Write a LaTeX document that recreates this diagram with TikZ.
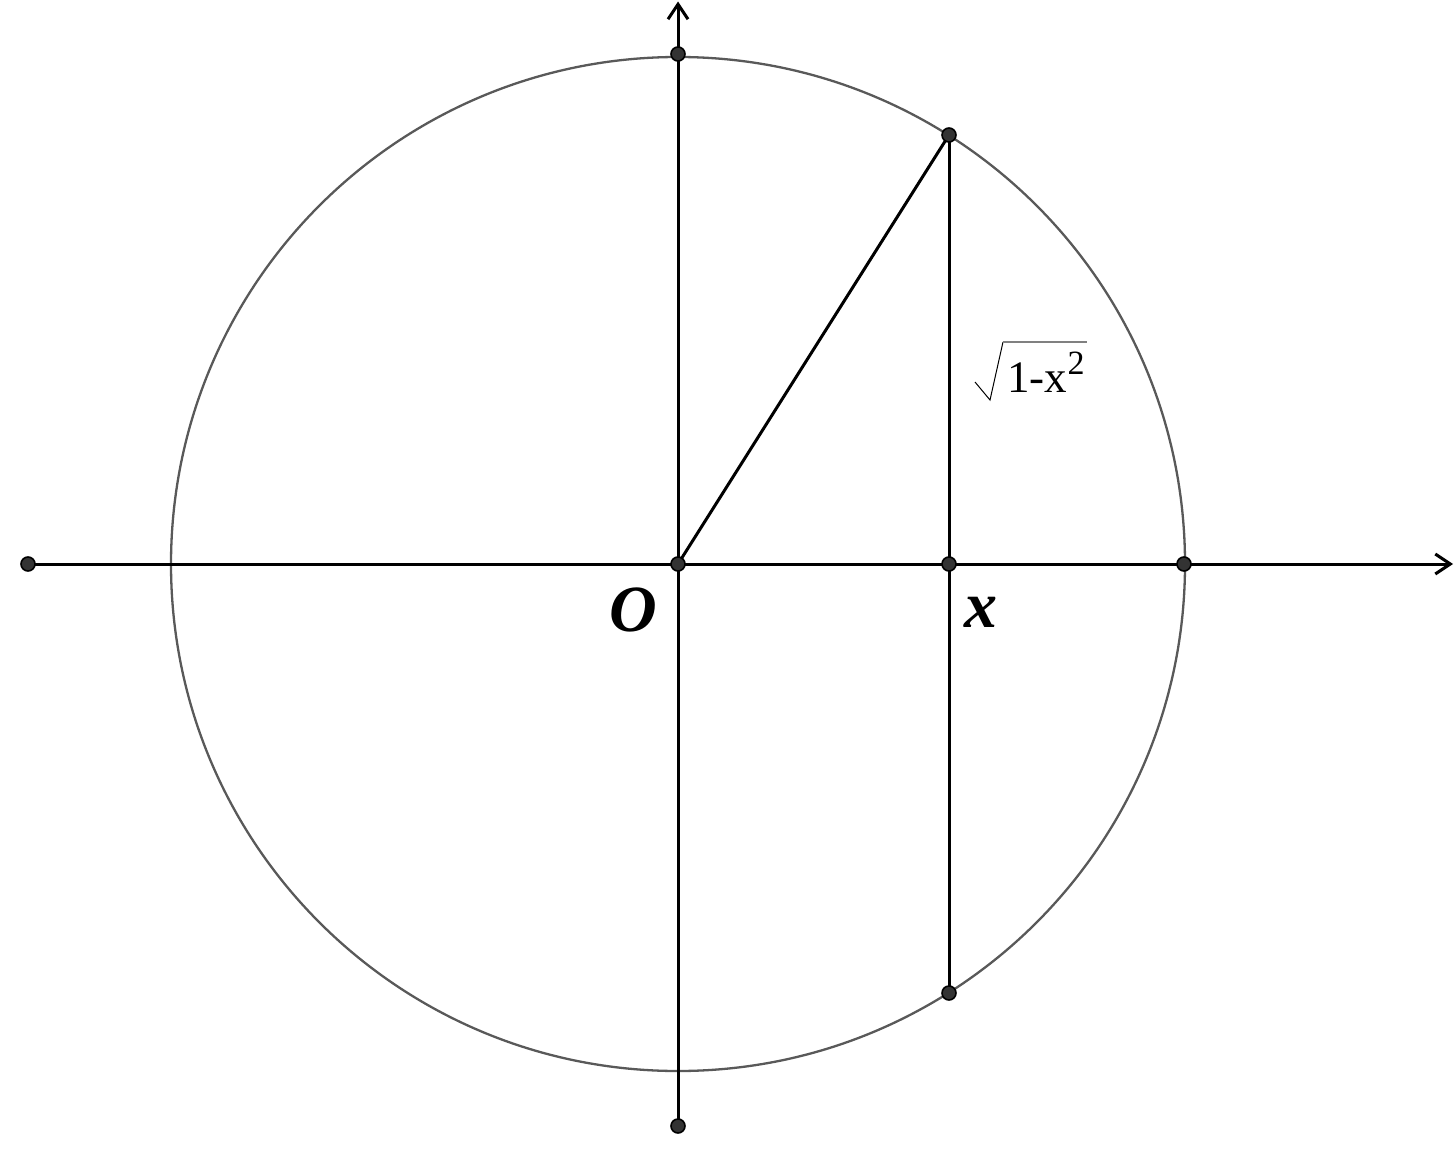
\documentclass[tikz,border=0pt]{standalone}
\usepackage{fontspec}
\setmainfont{Liberation Serif}
\usetikzlibrary{arrows.meta}
\begin{document}
\begin{tikzpicture}[x=1pt,y=-1pt,
  axis/.style={line width=3pt,black,line cap=butt},
  seg/.style={line width=3pt,black},
  circ/.style={line width=2.3pt,draw=black!65},
  pt/.style={circle,fill=black!80,draw=black,line width=1.6pt,inner sep=0pt,minimum size=14pt},
  lbl/.style={font=\fontsize{66}{66}\selectfont\bfseries\itshape,inner sep=0pt},
  tip/.style={-{Straight Barb[length=15pt,width=20pt,line width=3pt]}}
]
\useasboundingbox (0,0) rectangle (1455,1155);
\coordinate (O) at (678,564);
\coordinate (X) at (949,564);
\coordinate (P) at (949,135);
\coordinate (Q) at (949,993);
\coordinate (A) at (1184,564);
\coordinate (T) at (678,54);
\coordinate (L) at (28,564);
\coordinate (B) at (678,1126);
\coordinate (XE) at (1453,564);
\coordinate (YE) at (678,1.5);
% circle
\draw[circ] (O) circle (507);
% axes
\draw[axis,tip] (L) -- (XE);
\draw[axis,tip] (B) -- (YE);
% segments
\draw[seg] (O) -- (P);
\draw[seg] (P) -- (Q);
% label sqrt
\coordinate (r1) at (975,382);
\coordinate (r2) at (990,400);
\coordinate (r3) at (1003,342);
\coordinate (r4) at (1087,342);
\draw[line width=1pt,black] (r1) -- (r2) -- (r3);
\draw[line width=2pt,black!50] (r3) -- (r4);
\node[anchor=base west,inner sep=0pt,font=\fontsize{45}{45}\selectfont] (rad) at (1007,392) {1-x};
\node[anchor=base west,inner sep=0pt,font=\fontsize{34}{34}\selectfont] (sq) at (rad.base east) [yshift=18pt] {2};
% labels
\node[lbl] (lO) at (633,610) {O};
\node[lbl] (lx) at (981,612) {x};
% points
\foreach \p in {O,X,P,Q,A,T,L,B} \node[pt] at (\p) {};
\end{tikzpicture}
\end{document}
